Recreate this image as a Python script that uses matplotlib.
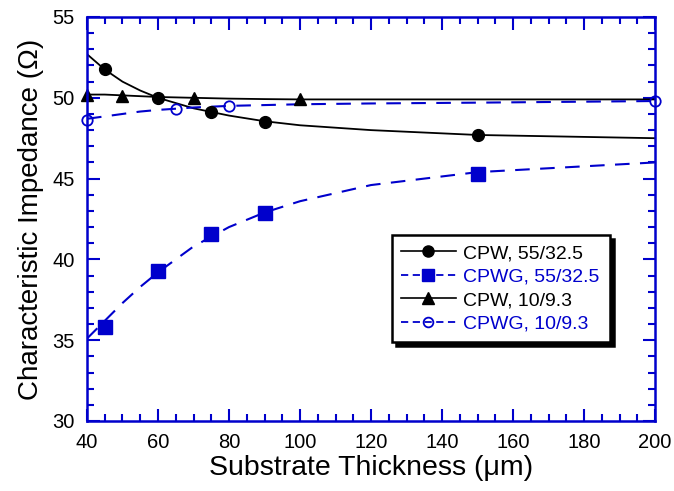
import matplotlib
matplotlib.use("Agg")
import matplotlib.pyplot as plt
from matplotlib.ticker import MultipleLocator

plt.rcParams["font.family"] = ["Liberation Sans", "DejaVu Sans"]

BLUE = "#0000CC"

# measured points
cpw55_x = [45, 60, 75, 90, 150]
cpw55_y = [51.8, 50.0, 49.1, 48.5, 47.7]
cpwg55_x = [45, 60, 75, 90, 150]
cpwg55_y = [35.8, 39.3, 41.6, 42.9, 45.3]
cpw10_x = [40, 50, 70, 100]
cpw10_y = [50.2, 50.1, 50.0, 49.9]
cpwg10_x = [40, 65, 80, 200]
cpwg10_y = [48.6, 49.3, 49.5, 49.8]

# fitted curves
fit_x = [40, 45, 50, 55, 60, 70, 80, 90, 100, 120, 150, 200]
cpw55_fit = [52.7, 51.75, 51.0, 50.45, 50.0, 49.35, 48.9, 48.55, 48.3, 48.0, 47.7, 47.5]
cpwg55_fit = [35.1, 36.2, 37.3, 38.3, 39.2, 40.8, 42.0, 42.9, 43.6, 44.6, 45.4, 46.0]
cpw10_fit = [50.2, 50.2, 50.15, 50.1, 50.05, 50.0, 49.95, 49.92, 49.9, 49.9, 49.9, 49.9]
cpwg10_fit = [48.7, 48.85, 49.0, 49.15, 49.25, 49.4, 49.5, 49.55, 49.6, 49.65, 49.7, 49.8]

fig = plt.figure(figsize=(6.74, 4.91), dpi=100)
ax = fig.add_axes([87 / 674, 70 / 491, 568 / 674, 404 / 491])

dash = (0, (7, 5))
ax.plot(fit_x, cpw55_fit, color="black", lw=1.3)
ax.plot(fit_x, cpwg55_fit, color=BLUE, lw=1.5, linestyle=dash)
ax.plot(fit_x, cpw10_fit, color="black", lw=1.3)
ax.plot(fit_x, cpwg10_fit, color=BLUE, lw=1.5, linestyle=dash)

ax.plot(cpw55_x, cpw55_y, "o", color="black", ms=8.5, clip_on=False)
ax.plot(cpwg55_x, cpwg55_y, "s", color=BLUE, ms=10, clip_on=False)
ax.plot(cpw10_x, cpw10_y, "^", color="black", ms=8, clip_on=False)
ax.plot(cpwg10_x, cpwg10_y, "o", mfc="none", mec=BLUE, mew=1.3, ms=7.5, clip_on=False)

# legend handles
h1, = ax.plot([], [], "-o", color="black", lw=1.2, ms=8)
h2, = ax.plot([], [], "s", color=BLUE, ms=9, linestyle=(0, (4, 2.5)), lw=1.3)
h3, = ax.plot([], [], "-^", color="black", lw=1.2, ms=8)
h4, = ax.plot([], [], "o", mfc="none", mec=BLUE, mew=1.3, ms=7, color=BLUE,
              linestyle=(0, (4, 2.5)), lw=1.3)
leg = ax.legend([h1, h2, h3, h4],
                ["CPW, 55/32.5", "CPWG, 55/32.5", "CPW, 10/9.3", "CPWG, 10/9.3"],
                loc="upper left", bbox_to_anchor=(0.519, 0.485), fontsize=14,
                handlelength=2.8, handletextpad=0.4, labelspacing=0.3,
                borderpad=0.5, fancybox=False, framealpha=1,
                shadow={"color": "black", "alpha": 1, "ox": 3, "oy": -3})
leg.get_frame().set_edgecolor("black")
leg.get_frame().set_linewidth(1.8)
for t, c in zip(leg.get_texts(), ["black", BLUE, "black", BLUE]):
    t.set_color(c)

ax.set_xlim(40, 200)
ax.set_ylim(30, 55)
ax.xaxis.set_major_locator(MultipleLocator(20))
ax.xaxis.set_minor_locator(MultipleLocator(5))
ax.yaxis.set_major_locator(MultipleLocator(5))
ax.yaxis.set_minor_locator(MultipleLocator(1))

for s in ax.spines.values():
    s.set_color(BLUE)
    s.set_linewidth(1.8)
ax.tick_params(which="both", direction="in", top=True, right=True,
               color=BLUE, width=1.5, labelsize=14.5)
ax.tick_params(which="major", length=9, pad=9)
ax.tick_params(which="minor", length=5)

ax.set_xlabel("Substrate Thickness (\u03bcm)", fontsize=20.5, labelpad=2)
ax.set_ylabel("Characteristic Impedance (\u03a9)", fontsize=20, labelpad=6)

fig.savefig("out.png", dpi=100)
